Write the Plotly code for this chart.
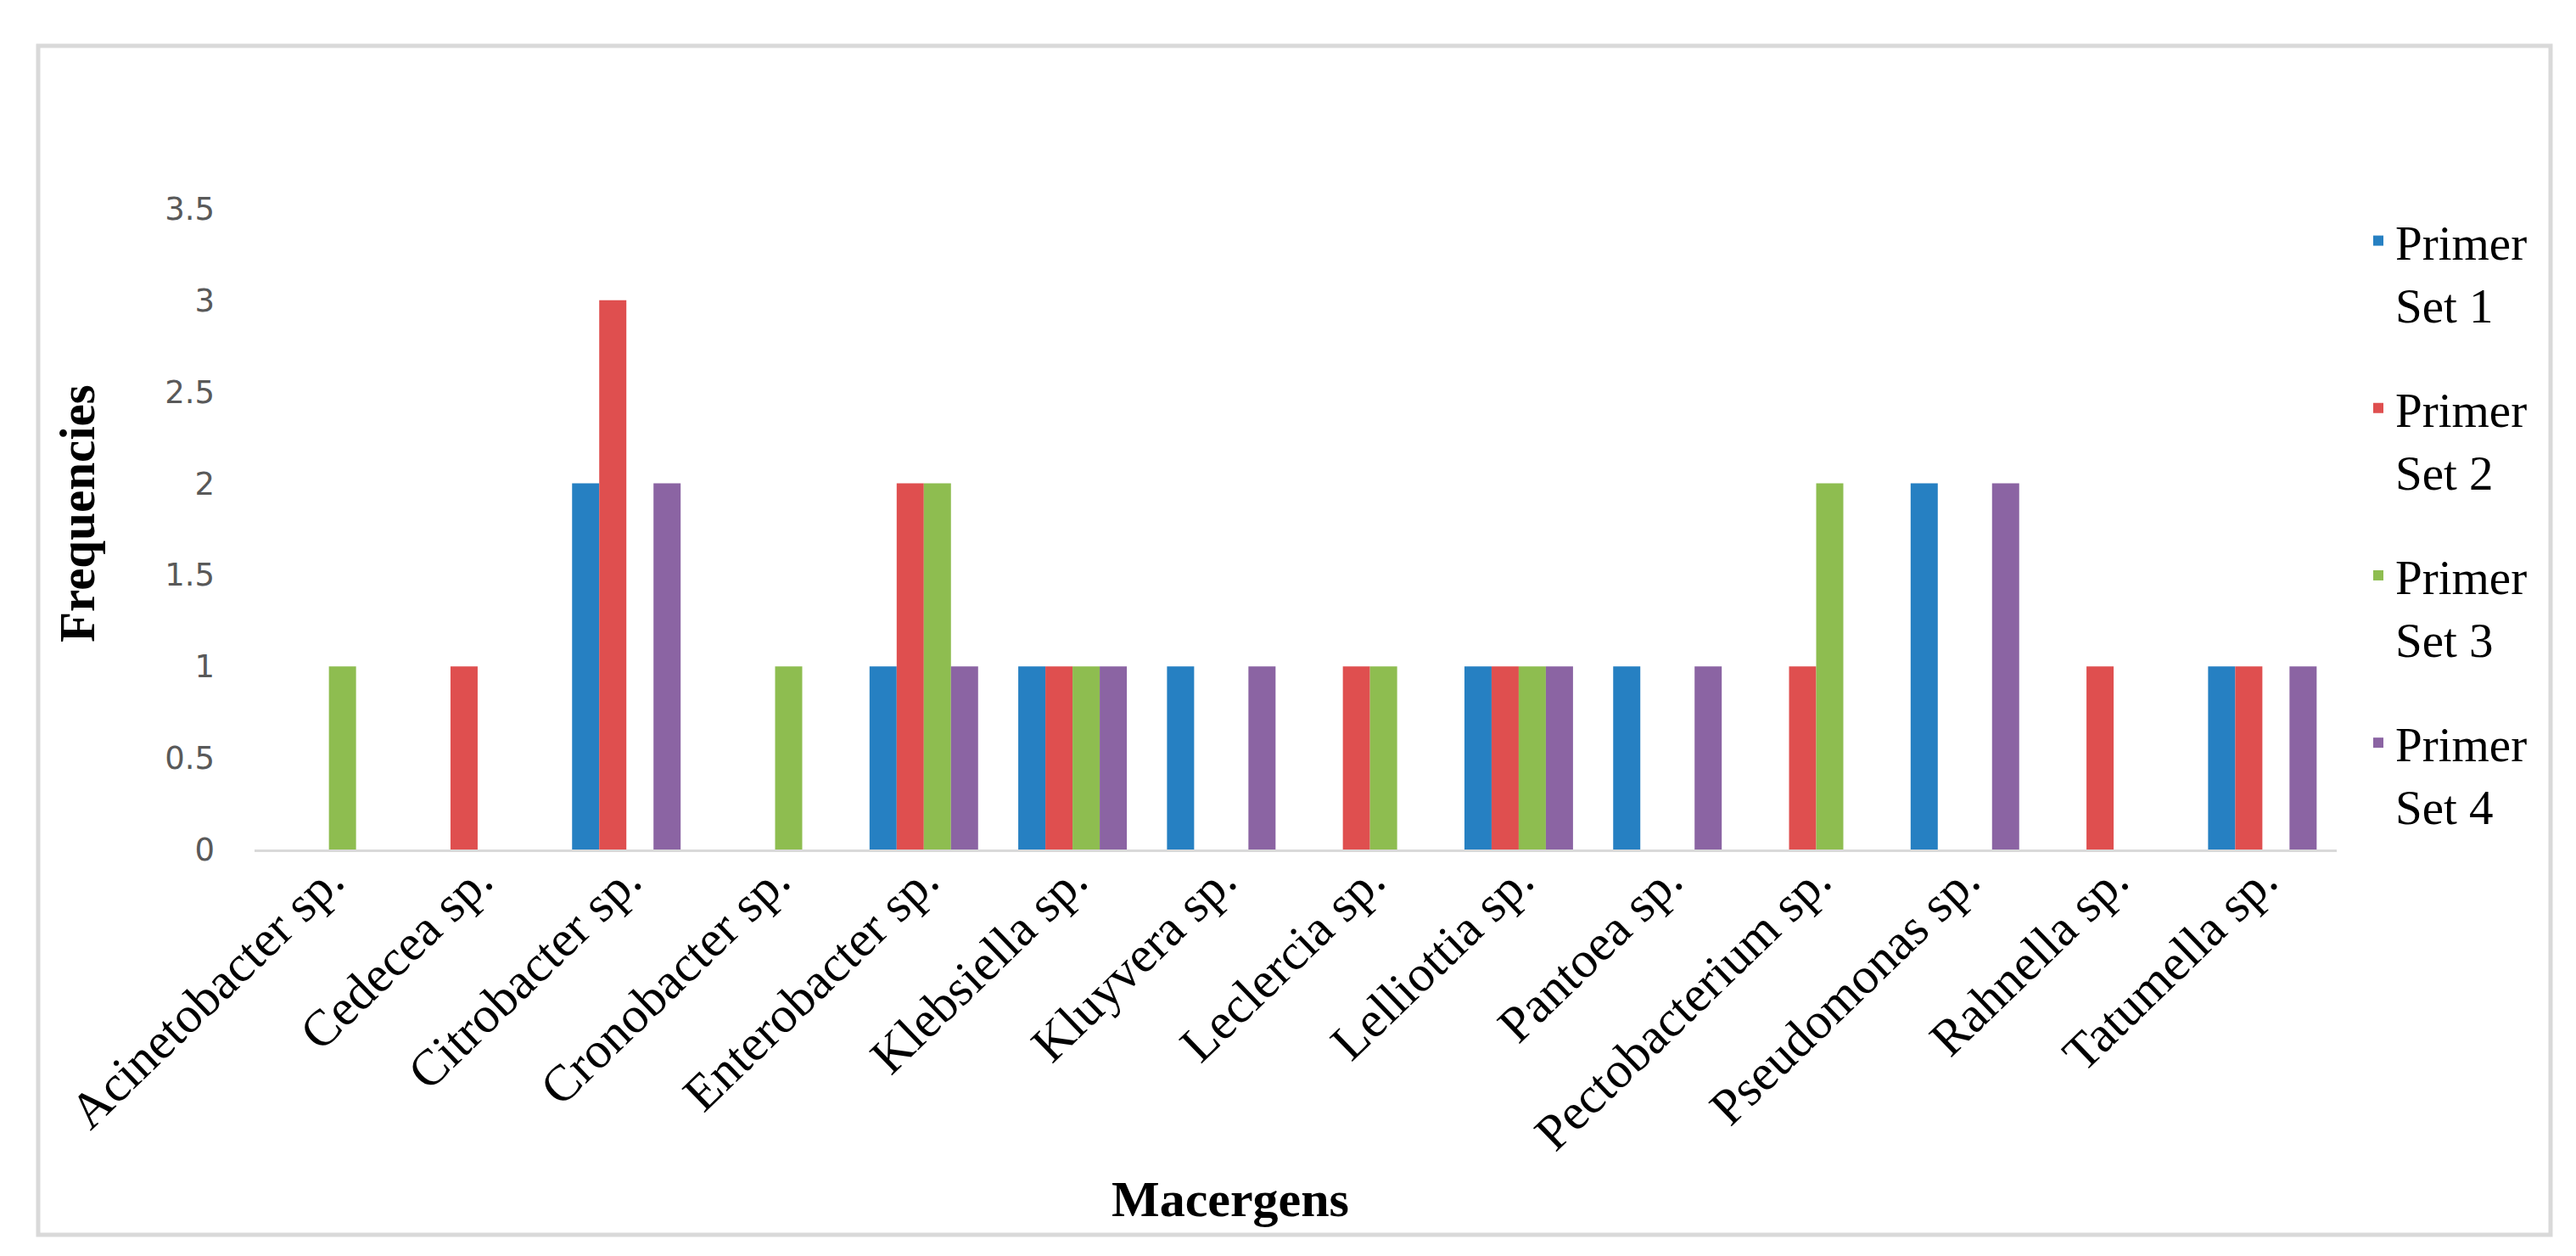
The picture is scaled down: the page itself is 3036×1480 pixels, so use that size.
import plotly.graph_objects as go

categories = ["Acinetobacter sp.", "Cedecea sp.", "Citrobacter sp.", "Cronobacter sp.",
              "Enterobacter sp.", "Klebsiella sp.", "Kluyvera sp.", "Leclercia sp.",
              "Lelliottia sp.", "Pantoea sp.", "Pectobacterium sp.", "Pseudomonas sp.",
              "Rahnella sp.", "Tatumella sp."]
set1 = [0, 0, 2, 0, 1, 1, 1, 0, 1, 1, 0, 2, 0, 1]
set2 = [0, 1, 3, 0, 2, 1, 0, 1, 1, 0, 1, 0, 1, 1]
set3 = [1, 0, 0, 1, 2, 1, 0, 1, 1, 0, 2, 0, 0, 0]
set4 = [0, 0, 2, 0, 1, 1, 1, 0, 1, 1, 0, 2, 0, 1]
series_names = ["Primer<br>Set 1", "Primer<br>Set 2", "Primer<br>Set 3", "Primer<br>Set 4"]
colors = ["#2680C2", "#DF4F4F", "#8EBD50", "#8B64A3"]
y_ticks = [0, 0.5, 1, 1.5, 2, 2.5, 3, 3.5]
y_ticktext = ["0", "0.5", "1", "1.5", "2", "2.5", "3", "3.5"]

W_PX, H_PX = 3036, 1480
L, R = 292, 2746   # plot area left/right in px
T, B = 238, 993    # plot area top/bottom in px

def px_x(p):
    return (p - L) / (R - L)

def px_y(p):
    return (B - p) / (B - T)

fig = go.Figure()
for i, (name, vals) in enumerate(zip(series_names, [set1, set2, set3, set4])):
    fig.add_trace(go.Bar(
        x=categories, y=vals, name=name,
        marker=dict(color=colors[i], line=dict(width=0)),
        legendgroup=f"g{i}",
    ))

serif = "Liberation Serif"

fig.update_layout(
    width=W_PX, height=H_PX,
    margin=dict(l=L, r=W_PX - R, t=T, b=H_PX - B, pad=0, autoexpand=False),
    paper_bgcolor="white", plot_bgcolor="white",
    barmode="group", bargap=0.27, bargroupgap=0,
    showlegend=True,
    legend=dict(
        x=px_x(2775), xanchor="left",
        y=px_y(232), yanchor="top",
        maxheight=1200,
        font=dict(family=serif, size=57, color="black"),
        valign="top", tracegroupgap=46,
        bgcolor="rgba(0,0,0,0)", borderwidth=0,
        traceorder="grouped",
    ),
    xaxis=dict(
        showgrid=False, showline=True, linecolor="#D9D9D9", linewidth=3,
        ticks="", tickangle=-44,
        tickfont=dict(family=serif, size=60, color="black"),
        ticklabelstandoff=-26,
        zeroline=False,
    ),
    yaxis=dict(
        range=[0, 3.5], showgrid=False, showline=False, zeroline=False,
        tickmode="array", tickvals=y_ticks, ticktext=y_ticktext,
        ticks="", tickfont=dict(family="DejaVu Sans", size=37, color="#595959"),
        ticklabelstandoff=46,
    ),
    annotations=[
        dict(text="<b>Frequencies</b>", xref="paper", yref="paper",
             x=px_x(83), y=px_y(597), xanchor="center", yanchor="middle",
             textangle=-90, showarrow=False,
             font=dict(family=serif, size=59, color="black")),
        dict(text="<b>Macergens</b>", xref="paper", yref="paper",
             x=px_x(1442), y=px_y(1405), xanchor="center", yanchor="middle",
             showarrow=False,
             font=dict(family=serif, size=60, color="black")),
    ],
    shapes=[
        dict(type="rect", xref="paper", yref="paper",
             x0=px_x(37), x1=px_x(2998), y0=px_y(1447), y1=px_y(46),
             line=dict(color="#D9D9D9", width=5), fillcolor="rgba(0,0,0,0)",
             layer="below"),
    ],
)

fig.write_html("out.html")
